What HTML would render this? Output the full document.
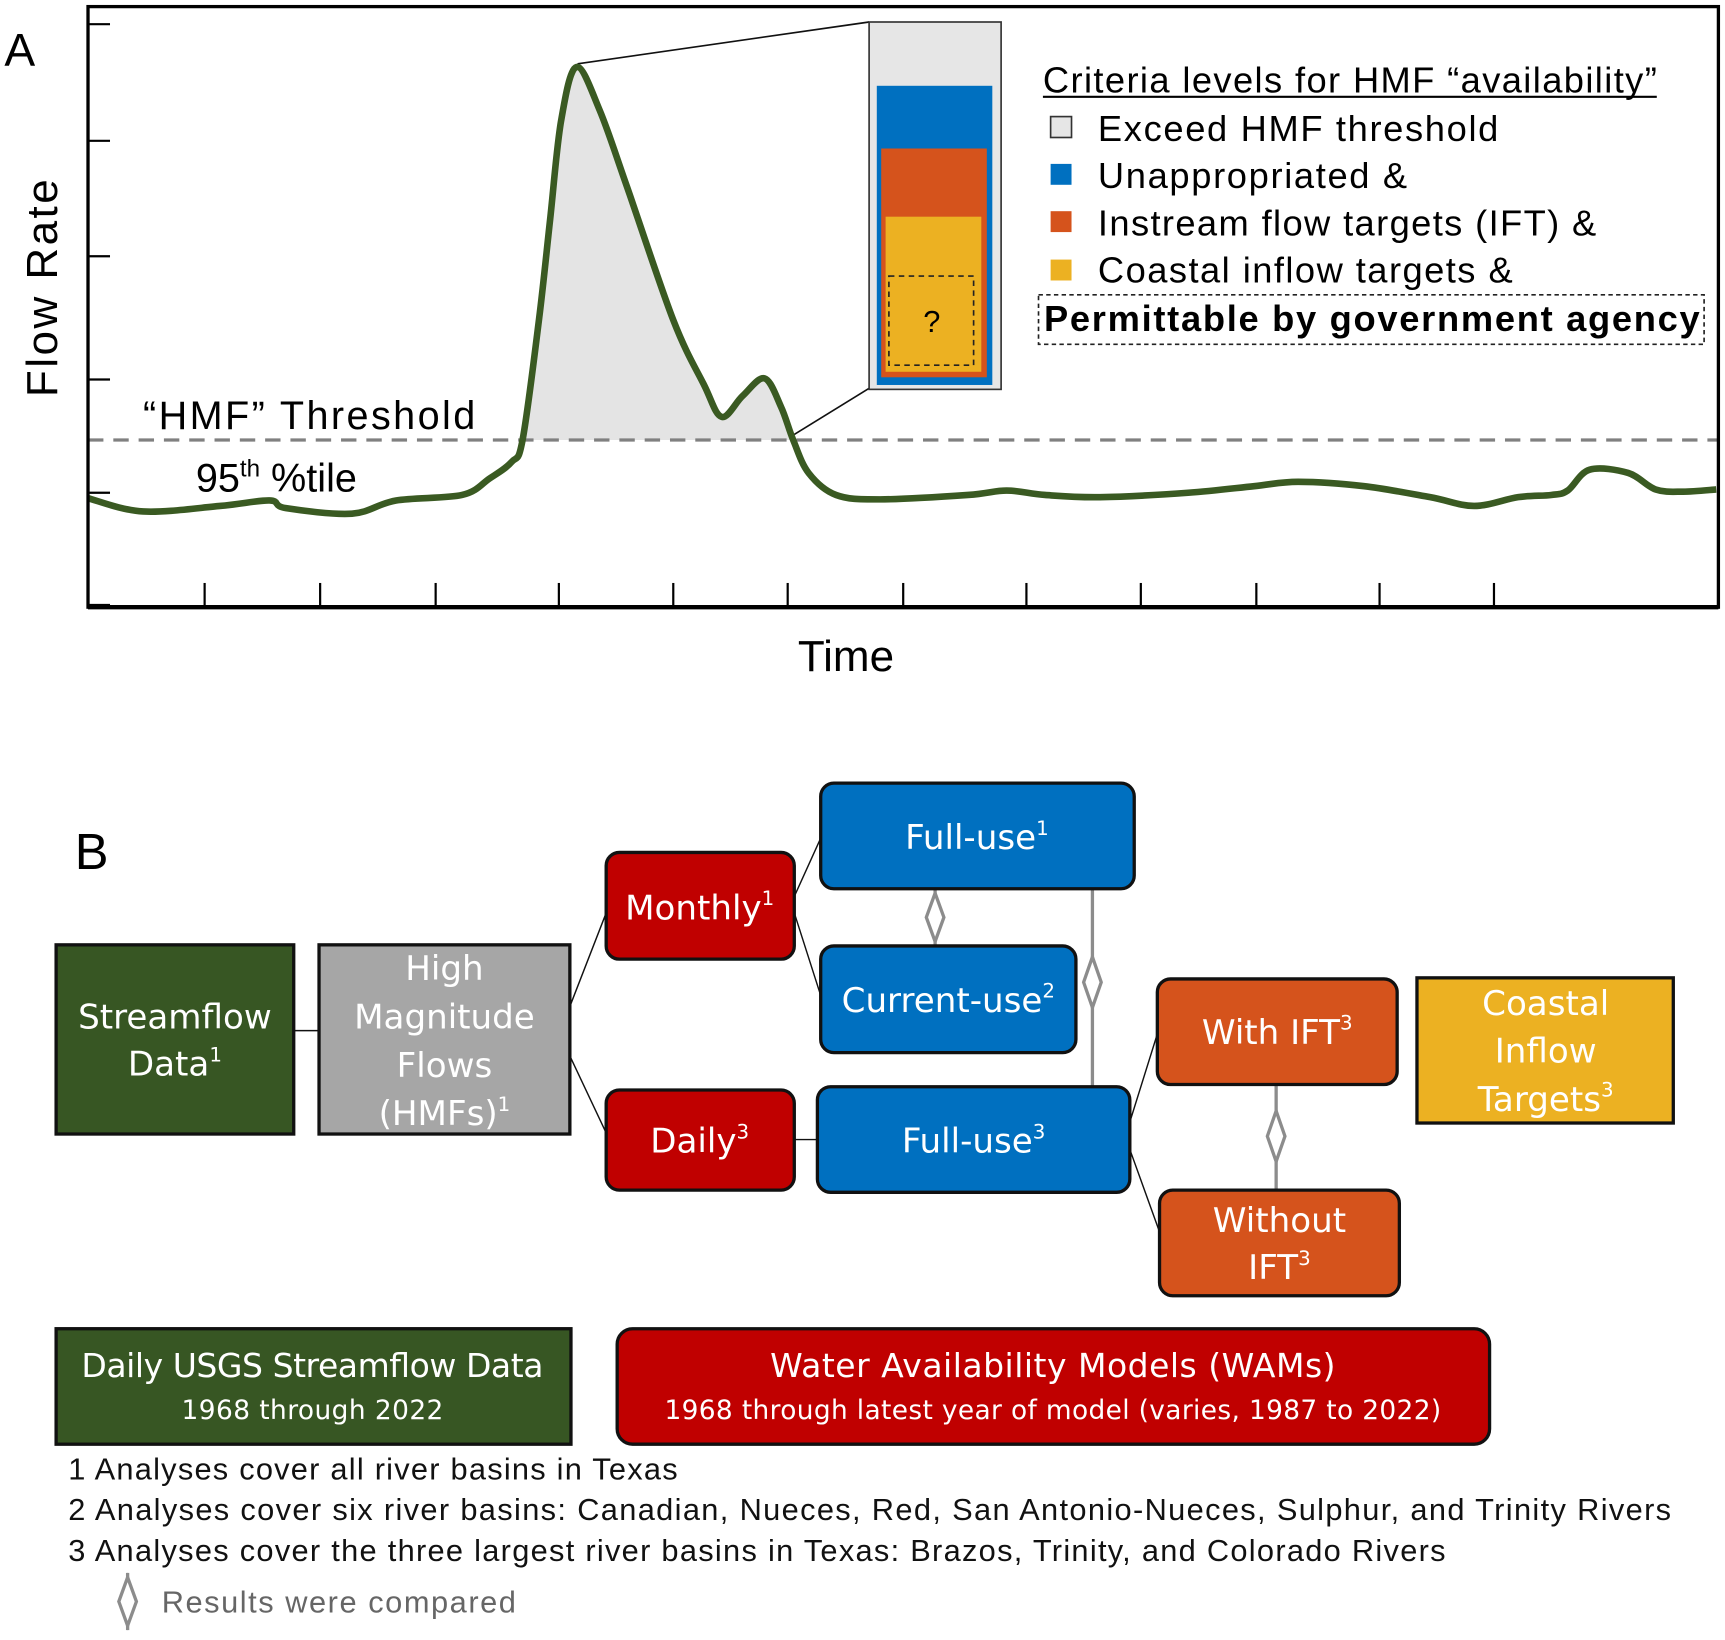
<!DOCTYPE html>
<html><head><meta charset="utf-8">
<style>
html,body{margin:0;padding:0;background:#fff;}
svg{display:block;}
text{font-family:"Liberation Sans","DejaVu Sans",sans-serif;}
.bt{fill:#fff;text-anchor:middle;font-family:"DejaVu Sans","Liberation Sans",sans-serif;}
.ft{fill:#111;}
</style></head>
<body>
<svg id="fig" width="1725" height="1640" viewBox="0 0 1568 1491" preserveAspectRatio="none" xmlns="http://www.w3.org/2000/svg">
<defs>
<clipPath id="aboveClip"><rect x="440" y="0" width="300" height="400"/></clipPath>
</defs>
<g id="panelA">
<text x="4" y="60" font-size="42">A</text>
<text x="0" y="0" font-size="40" transform="translate(52,262) rotate(-90)" text-anchor="middle" textLength="198">Flow Rate</text>
<text x="769" y="610" font-size="40" text-anchor="middle">Time</text>
<path id="areaFill" d="" fill="#e4e4e4" clip-path="url(#aboveClip)"/>
<line x1="80" y1="400" x2="1562" y2="400" stroke="#808080" stroke-width="3" stroke-dasharray="14,9"/>
<text x="130" y="390" font-size="36" textLength="302">“HMF” Threshold</text>
<text x="178" y="447" font-size="36">95<tspan font-size="22" dy="-14">th</tspan><tspan dy="14"> %tile</tspan></text>
<line x1="525" y1="58" x2="790" y2="20" stroke="#111" stroke-width="1.5"/>
<line x1="722" y1="395" x2="790" y2="353" stroke="#111" stroke-width="1.5"/>
<path id="flowLine" d="" fill="none" stroke="#3a5a22" stroke-width="6" stroke-linejoin="round"/>
<g id="ticks"></g>
<rect x="80" y="6" width="1482" height="546" fill="none" stroke="#000" stroke-width="3"/>
<line x1="80" y1="552" x2="1562" y2="552" stroke="#000" stroke-width="4"/>
<g>
<rect x="790" y="20" width="120" height="334" fill="#e6e6e6" stroke="#333" stroke-width="1.5"/>
<rect x="797" y="78" width="105" height="272" fill="#0070c0"/>
<rect x="801" y="135" width="96" height="208" fill="#d5531c"/>
<rect x="805" y="197" width="87" height="141" fill="#ecb122"/>
<rect x="808" y="251" width="77" height="81" fill="none" stroke="#222" stroke-width="1.5" stroke-dasharray="5,4"/>
<text x="847" y="302" font-size="28" text-anchor="middle">?</text>
</g>
<g>
<text x="948" y="84" font-size="33" textLength="558">Criteria levels for HMF “availability”</text>
<line x1="948" y1="88" x2="1506" y2="88" stroke="#000" stroke-width="2"/>
<rect x="955" y="106" width="19" height="19" fill="#e6e6e6" stroke="#333" stroke-width="1.5"/>
<text x="998" y="128" font-size="33" textLength="364">Exceed HMF threshold</text>
<rect x="955" y="149" width="19" height="19" fill="#0070c0"/>
<text x="998" y="171" font-size="33" textLength="281">Unappropriated &amp;</text>
<rect x="955" y="192" width="19" height="19" fill="#d5531c"/>
<text x="998" y="214" font-size="33" textLength="453">Instream flow targets (IFT) &amp;</text>
<rect x="955" y="236" width="19" height="19" fill="#ecb122"/>
<text x="998" y="257" font-size="33" textLength="377">Coastal inflow targets &amp;</text>
<rect x="944" y="268" width="605" height="45" fill="none" stroke="#222" stroke-width="1.5" stroke-dasharray="4,3"/>
<text x="949" y="301" font-size="33" font-weight="bold" textLength="596">Permittable by government agency</text>
</g>
</g>

<g id="panelB">
<text x="68" y="790" font-size="46">B</text>
<g stroke="#111" stroke-width="1.3" fill="none">
<line x1="267" y1="937" x2="290" y2="937"/>
<line x1="518" y1="915" x2="551" y2="830"/>
<line x1="518" y1="960" x2="551" y2="1030"/>
<line x1="722" y1="815" x2="746" y2="762"/>
<line x1="722" y1="830" x2="746" y2="905"/>
<line x1="722" y1="1036" x2="743" y2="1036"/>
<line x1="1027" y1="1020" x2="1052" y2="940"/>
<line x1="1027" y1="1045" x2="1054" y2="1120"/>
</g>
<g stroke="#8c8c8c" stroke-width="3" fill="none">
<line x1="850" y1="808" x2="850" y2="860"/><path d="M850,812 L858,834 L850,856 L842,834 Z" fill="#fff"/>
<line x1="993" y1="808" x2="993" y2="988"/><path d="M993,870 L1001,893 L993,916 L985,893 Z" fill="#fff"/>
<line x1="1160" y1="986" x2="1160" y2="1082"/><path d="M1160,1010 L1168,1033 L1160,1056 L1152,1033 Z" fill="#fff"/>
</g>
<rect x="51" y="859" width="216" height="172" fill="#375623" stroke="#111" stroke-width="3"/>
<text class="bt" font-size="31" x="159" y="935">Streamflow</text>
<text class="bt" font-size="31" x="159" y="978">Data<tspan font-size="18" dy="-13">1</tspan></text>
<rect x="290" y="859" width="228" height="172" fill="#a6a6a6" stroke="#111" stroke-width="3"/>
<text class="bt" font-size="31" x="404" y="891">High</text>
<text class="bt" font-size="31" x="404" y="935">Magnitude</text>
<text class="bt" font-size="31" x="404" y="979">Flows</text>
<text class="bt" font-size="31" x="404" y="1023">(HMFs)<tspan font-size="18" dy="-13">1</tspan></text>
<rect x="551" y="775" width="171" height="97" rx="12" fill="#c00000" stroke="#111" stroke-width="3"/>
<text class="bt" font-size="31" x="636" y="836">Monthly<tspan font-size="18" dy="-13">1</tspan></text>
<rect x="551" y="991" width="171" height="91" rx="12" fill="#c00000" stroke="#111" stroke-width="3"/>
<text class="bt" font-size="31" x="636" y="1048">Daily<tspan font-size="18" dy="-13">3</tspan></text>
<rect x="746" y="712" width="285" height="96" rx="12" fill="#0070c0" stroke="#111" stroke-width="3"/>
<text class="bt" font-size="31" x="888" y="772">Full-use<tspan font-size="18" dy="-13">1</tspan></text>
<rect x="746" y="860" width="232" height="97" rx="12" fill="#0070c0" stroke="#111" stroke-width="3"/>
<text class="bt" font-size="31" x="862" y="920">Current-use<tspan font-size="18" dy="-13">2</tspan></text>
<rect x="743" y="988" width="284" height="96" rx="12" fill="#0070c0" stroke="#111" stroke-width="3"/>
<text class="bt" font-size="31" x="885" y="1048">Full-use<tspan font-size="18" dy="-13">3</tspan></text>
<rect x="1052" y="890" width="218" height="96" rx="12" fill="#d5531c" stroke="#111" stroke-width="3"/>
<text class="bt" font-size="31" x="1161" y="949">With IFT<tspan font-size="18" dy="-13">3</tspan></text>
<rect x="1054" y="1082" width="218" height="96" rx="12" fill="#d5531c" stroke="#111" stroke-width="3"/>
<text class="bt" font-size="31" x="1163" y="1120">Without</text>
<text class="bt" font-size="31" x="1163" y="1163">IFT<tspan font-size="18" dy="-13">3</tspan></text>
<rect x="1288" y="889" width="233" height="132" fill="#ecb122" stroke="#111" stroke-width="3"/>
<text class="bt" font-size="31" x="1405" y="923">Coastal</text>
<text class="bt" font-size="31" x="1405" y="966">Inflow</text>
<text class="bt" font-size="31" x="1405" y="1010">Targets<tspan font-size="18" dy="-13">3</tspan></text>
<rect x="51" y="1208" width="468" height="105" fill="#375623" stroke="#111" stroke-width="3"/>
<text class="bt" font-size="30" x="284" y="1252" textLength="420">Daily USGS Streamflow Data</text>
<text class="bt" font-size="24" x="284" y="1290" textLength="238">1968 through 2022</text>
<rect x="561" y="1208" width="793" height="105" rx="14" fill="#c00000" stroke="#111" stroke-width="3"/>
<text class="bt" font-size="30" x="957" y="1252" textLength="514">Water Availability Models (WAMs)</text>
<text class="bt" font-size="24" x="957" y="1290" textLength="706">1968 through latest year of model (varies, 1987 to 2022)</text>
<text class="ft" font-size="28" x="62" y="1345" textLength="554">1 Analyses cover all river basins in Texas</text>
<text class="ft" font-size="28" x="62" y="1382" textLength="1457">2 Analyses cover six river basins: Canadian, Nueces, Red, San Antonio-Nueces, Sulphur, and Trinity Rivers</text>
<text class="ft" font-size="28" x="62" y="1419" textLength="1252">3 Analyses cover the three largest river basins in Texas: Brazos, Trinity, and Colorado Rivers</text>
<g>
<line x1="116" y1="1430" x2="116" y2="1482" stroke="#8c8c8c" stroke-width="3"/>
<path d="M116,1434 L124,1456 L116,1478 L108,1456 Z" fill="#fff" stroke="#8c8c8c" stroke-width="3"/>
<text x="147" y="1466" font-size="28" fill="#666" textLength="322">Results were compared</text>
</g>
</g>
</svg>
<script>
// flow hydrograph data (time in arbitrary units, flow rate in arbitrary units)
const timeVals = [0,50,120,165,180,240,280,340,365,385,395,410,420,430,444,465,490,532,560,576,595,615,630,641,655,680,720,800,835,870,920,1000,1060,1100,1160,1220,1260,1300,1330,1345,1365,1400,1425,1450,1480];
const flowVals = [97,85,90,95,88,83,95,100,115,130,150,260,350,440,489,450,380,259,200,171,190,206,180,150,120,100,96,100,104,100,98,102,108,112,108,98,90,98,100,104,123,120,105,103,105];
const tickPosFlow = [0,102,205,317,422,528];
const tickPosTime = [106,211,316,428,532,636,741,853,957,1062,1174,1278];
const thresholdFlow = 150;

const X0=80, Y0=550;
function xs(t){ return X0 + t; }
function ys(f){ return Y0 - f; }

const pts = timeVals.map((t,i)=>[xs(t), ys(flowVals[i])]);
function smooth(p){
  let d = `M${p[0][0]},${p[0][1]}`;
  for(let i=0;i<p.length-1;i++){
    const p0=p[i-1]||p[i], p1=p[i], p2=p[i+1], p3=p[i+2]||p2;
    const c1=[p1[0]+(p2[0]-p0[0])/6, p1[1]+(p2[1]-p0[1])/6];
    const c2=[p2[0]-(p3[0]-p1[0])/6, p2[1]-(p3[1]-p1[1])/6];
    d += ` C${c1[0]},${c1[1]} ${c2[0]},${c2[1]} ${p2[0]},${p2[1]}`;
  }
  return d;
}
const lineD = smooth(pts);
document.getElementById('flowLine').setAttribute('d', lineD);
document.getElementById('areaFill').setAttribute('d', lineD + ` L${pts[pts.length-1][0]},${Y0} L${pts[0][0]},${Y0} Z`);

const NS='http://www.w3.org/2000/svg';
const g=document.getElementById('ticks');
tickPosFlow.forEach(v=>{
  const l=document.createElementNS(NS,'line');
  l.setAttribute('x1',X0); l.setAttribute('x2',X0+20);
  l.setAttribute('y1',ys(v)); l.setAttribute('y2',ys(v));
  l.setAttribute('stroke','#000'); l.setAttribute('stroke-width','2');
  
  
  g.appendChild(l);
});
tickPosTime.forEach(v=>{
  const l=document.createElementNS(NS,'line');
  l.setAttribute('x1',xs(v)); l.setAttribute('x2',xs(v));
  l.setAttribute('y1',530); l.setAttribute('y2',552);
  l.setAttribute('stroke','#000'); l.setAttribute('stroke-width','2');
  
  
  g.appendChild(l);
});
</script>
</body></html>
